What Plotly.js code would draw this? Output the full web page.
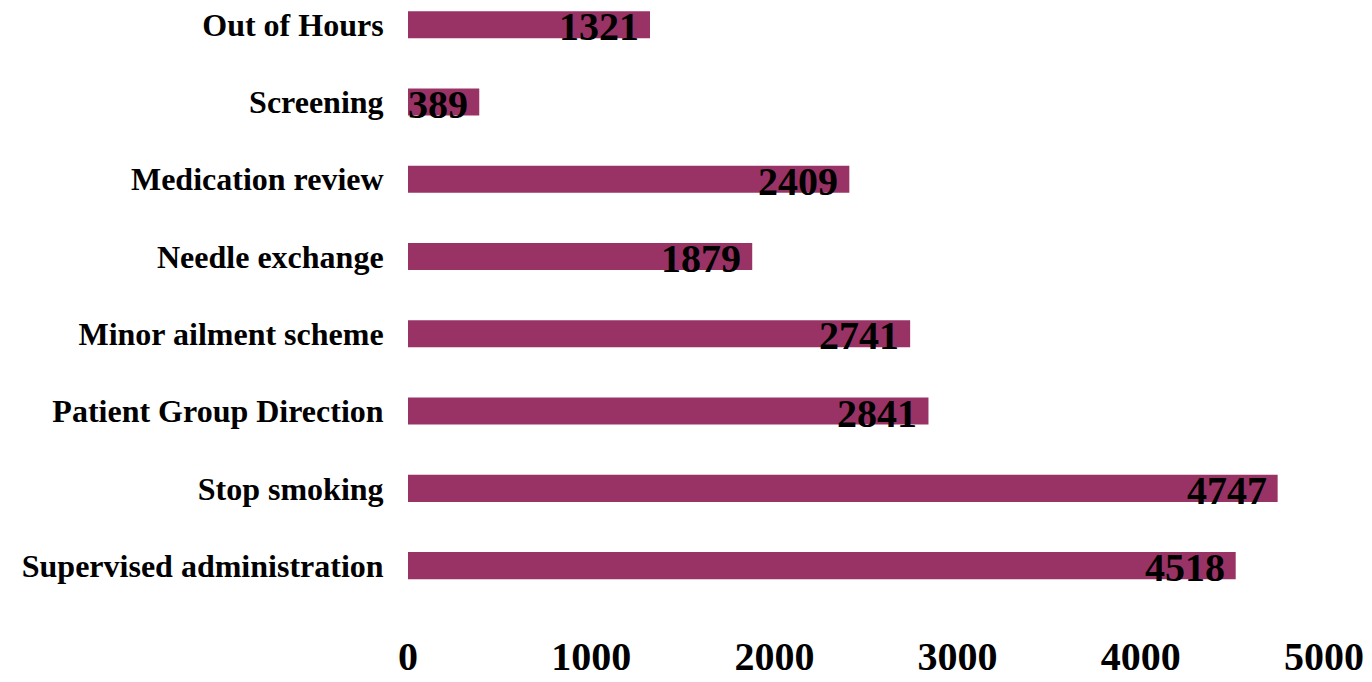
<!DOCTYPE html>
<html>
<head>
<meta charset="utf-8">
<script src="https://cdn.plot.ly/plotly-3.0.1.min.js"></script>
<style>html,body{margin:0;padding:0;background:#fff;}#chart{width:1372px;height:682px;}</style>
</head>
<body>
<div id="chart"></div>
<script>
const categories = ["Supervised administration", "Stop smoking", "Patient Group Direction", "Minor ailment scheme", "Needle exchange", "Medication review", "Screening", "Out of Hours"];
const values = [4518, 4747, 2841, 2741, 1879, 2409, 389, 1321];
const xTicks = [0, 1000, 2000, 3000, 4000, 5000];

const serif = "Liberation Serif, Times New Roman, serif";

const trace = {
  type: 'bar',
  orientation: 'h',
  y: categories,
  x: values,
  marker: {color: '#993366'},
  width: 0.35,
  hoverinfo: 'none'
};

const annotations = values.map((v, i) => ({
  x: v, y: categories[i], xref: 'x', yref: 'y',
  text: String(v), showarrow: false,
  xanchor: 'right', yanchor: 'middle',
  xshift: -9, yshift: -2,
  font: {family: serif, size: 40, color: '#000', weight: 'bold'}
}));

const layout = {
  width: 1372, height: 682,
  margin: {l: 408, r: 48, t: 0, b: 53},
  paper_bgcolor: '#fff', plot_bgcolor: '#fff',
  showlegend: false,
  xaxis: {
    range: [0, 5000], tickvals: xTicks, ticktext: xTicks.map(String),
    showgrid: false, zeroline: false, showline: false,
    ticks: '', tickfont: {family: serif, size: 40, color: '#000', weight: 'bold'}
  },
  yaxis: {
    type: 'category', range: [-0.82, 7.32],
    showgrid: false, zeroline: false, showline: false,
    ticks: 'outside', ticklen: 17, tickcolor: 'rgba(0,0,0,0)',
    tickfont: {family: serif, size: 32, color: '#000', weight: 'bold'}
  },
  annotations: annotations
};

Plotly.newPlot('chart', [trace], layout, {displayModeBar: false, staticPlot: true});
</script>
</body>
</html>
